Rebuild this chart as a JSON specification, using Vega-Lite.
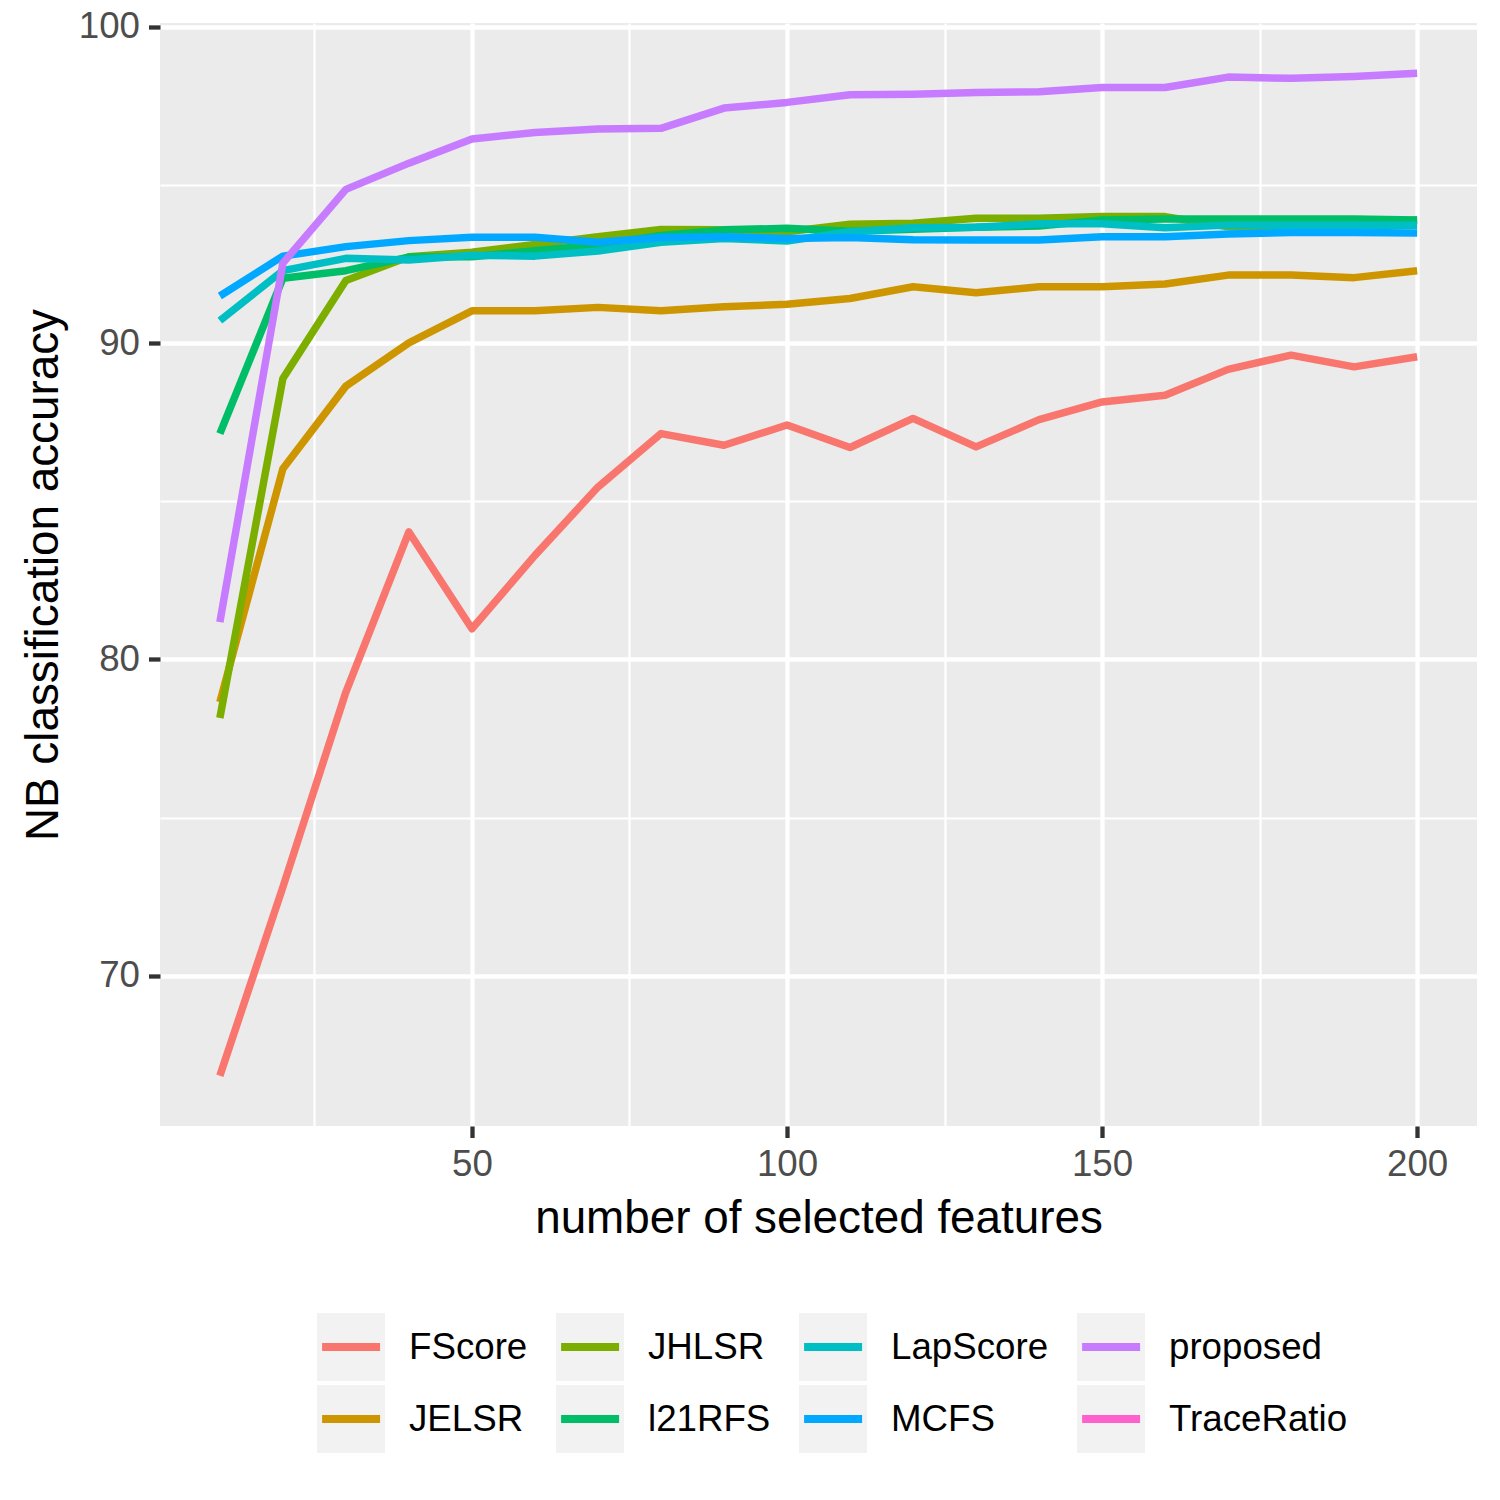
{
  "$schema": "https://vega.github.io/schema/vega-lite/v6.json",
  "width": 1317,
  "height": 1103,
  "autosize": {"type": "none"},
  "padding": {"left": 160, "top": 23, "right": 23, "bottom": 374},
  "background": "white",
  "config": {"view": {"fill": "#EBEBEB", "stroke": null}, "font": "Liberation Sans"},
  "data": {"values": [
    {"n":10,"method":"FScore","acc":66.84},{"n":20,"method":"FScore","acc":72.8},{"n":30,"method":"FScore","acc":78.97},{"n":40,"method":"FScore","acc":84.03},{"n":50,"method":"FScore","acc":80.97},{"n":60,"method":"FScore","acc":83.29},{"n":70,"method":"FScore","acc":85.45},{"n":80,"method":"FScore","acc":87.14},{"n":90,"method":"FScore","acc":86.77},{"n":100,"method":"FScore","acc":87.41},{"n":110,"method":"FScore","acc":86.70},{"n":120,"method":"FScore","acc":87.62},{"n":130,"method":"FScore","acc":86.72},{"n":140,"method":"FScore","acc":87.58},{"n":150,"method":"FScore","acc":88.14},{"n":160,"method":"FScore","acc":88.35},{"n":170,"method":"FScore","acc":89.17},{"n":180,"method":"FScore","acc":89.62},{"n":190,"method":"FScore","acc":89.25},{"n":200,"method":"FScore","acc":89.57},
    {"n":10,"method":"JELSR","acc":78.65},{"n":20,"method":"JELSR","acc":86.03},{"n":30,"method":"JELSR","acc":88.64},{"n":40,"method":"JELSR","acc":90.01},{"n":50,"method":"JELSR","acc":91.02},{"n":60,"method":"JELSR","acc":91.02},{"n":70,"method":"JELSR","acc":91.13},{"n":80,"method":"JELSR","acc":91.02},{"n":90,"method":"JELSR","acc":91.15},{"n":100,"method":"JELSR","acc":91.23},{"n":110,"method":"JELSR","acc":91.41},{"n":120,"method":"JELSR","acc":91.78},{"n":130,"method":"JELSR","acc":91.59},{"n":140,"method":"JELSR","acc":91.78},{"n":150,"method":"JELSR","acc":91.78},{"n":160,"method":"JELSR","acc":91.87},{"n":170,"method":"JELSR","acc":92.15},{"n":180,"method":"JELSR","acc":92.15},{"n":190,"method":"JELSR","acc":92.07},{"n":200,"method":"JELSR","acc":92.29},
    {"n":10,"method":"JHLSR","acc":78.15},{"n":20,"method":"JHLSR","acc":88.88},{"n":30,"method":"JHLSR","acc":91.98},{"n":40,"method":"JHLSR","acc":92.73},{"n":50,"method":"JHLSR","acc":92.87},{"n":60,"method":"JHLSR","acc":93.12},{"n":70,"method":"JHLSR","acc":93.36},{"n":80,"method":"JHLSR","acc":93.59},{"n":90,"method":"JHLSR","acc":93.58},{"n":100,"method":"JHLSR","acc":93.52},{"n":110,"method":"JHLSR","acc":93.76},{"n":120,"method":"JHLSR","acc":93.79},{"n":130,"method":"JHLSR","acc":93.95},{"n":140,"method":"JHLSR","acc":93.95},{"n":150,"method":"JHLSR","acc":94.00},{"n":160,"method":"JHLSR","acc":94.00},{"n":170,"method":"JHLSR","acc":93.68},{"n":180,"method":"JHLSR","acc":93.68},{"n":190,"method":"JHLSR","acc":93.75},{"n":200,"method":"JHLSR","acc":93.89},
    {"n":10,"method":"l21RFS","acc":87.14},{"n":20,"method":"l21RFS","acc":92.05},{"n":30,"method":"l21RFS","acc":92.29},{"n":40,"method":"l21RFS","acc":92.72},{"n":50,"method":"l21RFS","acc":92.73},{"n":60,"method":"l21RFS","acc":92.92},{"n":70,"method":"l21RFS","acc":93.10},{"n":80,"method":"l21RFS","acc":93.40},{"n":90,"method":"l21RFS","acc":93.58},{"n":100,"method":"l21RFS","acc":93.63},{"n":110,"method":"l21RFS","acc":93.54},{"n":120,"method":"l21RFS","acc":93.60},{"n":130,"method":"l21RFS","acc":93.66},{"n":140,"method":"l21RFS","acc":93.70},{"n":150,"method":"l21RFS","acc":93.89},{"n":160,"method":"l21RFS","acc":93.92},{"n":170,"method":"l21RFS","acc":93.92},{"n":180,"method":"l21RFS","acc":93.92},{"n":190,"method":"l21RFS","acc":93.92},{"n":200,"method":"l21RFS","acc":93.89},
    {"n":10,"method":"LapScore","acc":90.71},{"n":20,"method":"LapScore","acc":92.29},{"n":30,"method":"LapScore","acc":92.68},{"n":40,"method":"LapScore","acc":92.63},{"n":50,"method":"LapScore","acc":92.78},{"n":60,"method":"LapScore","acc":92.75},{"n":70,"method":"LapScore","acc":92.91},{"n":80,"method":"LapScore","acc":93.19},{"n":90,"method":"LapScore","acc":93.31},{"n":100,"method":"LapScore","acc":93.23},{"n":110,"method":"LapScore","acc":93.52},{"n":120,"method":"LapScore","acc":93.65},{"n":130,"method":"LapScore","acc":93.66},{"n":140,"method":"LapScore","acc":93.77},{"n":150,"method":"LapScore","acc":93.77},{"n":160,"method":"LapScore","acc":93.65},{"n":170,"method":"LapScore","acc":93.73},{"n":180,"method":"LapScore","acc":93.73},{"n":190,"method":"LapScore","acc":93.73},{"n":200,"method":"LapScore","acc":93.73},
    {"n":10,"method":"MCFS","acc":91.49},{"n":20,"method":"MCFS","acc":92.75},{"n":30,"method":"MCFS","acc":93.05},{"n":40,"method":"MCFS","acc":93.24},{"n":50,"method":"MCFS","acc":93.35},{"n":60,"method":"MCFS","acc":93.35},{"n":70,"method":"MCFS","acc":93.19},{"n":80,"method":"MCFS","acc":93.34},{"n":90,"method":"MCFS","acc":93.36},{"n":100,"method":"MCFS","acc":93.31},{"n":110,"method":"MCFS","acc":93.34},{"n":120,"method":"MCFS","acc":93.27},{"n":130,"method":"MCFS","acc":93.26},{"n":140,"method":"MCFS","acc":93.26},{"n":150,"method":"MCFS","acc":93.36},{"n":160,"method":"MCFS","acc":93.36},{"n":170,"method":"MCFS","acc":93.45},{"n":180,"method":"MCFS","acc":93.50},{"n":190,"method":"MCFS","acc":93.50},{"n":200,"method":"MCFS","acc":93.48},
    {"n":10,"method":"proposed","acc":81.18},{"n":20,"method":"proposed","acc":92.53},{"n":30,"method":"proposed","acc":94.86},{"n":40,"method":"proposed","acc":95.69},{"n":50,"method":"proposed","acc":96.45},{"n":60,"method":"proposed","acc":96.66},{"n":70,"method":"proposed","acc":96.77},{"n":80,"method":"proposed","acc":96.79},{"n":90,"method":"proposed","acc":97.43},{"n":100,"method":"proposed","acc":97.61},{"n":110,"method":"proposed","acc":97.85},{"n":120,"method":"proposed","acc":97.87},{"n":130,"method":"proposed","acc":97.92},{"n":140,"method":"proposed","acc":97.95},{"n":150,"method":"proposed","acc":98.08},{"n":160,"method":"proposed","acc":98.08},{"n":170,"method":"proposed","acc":98.41},{"n":180,"method":"proposed","acc":98.37},{"n":190,"method":"proposed","acc":98.43},{"n":200,"method":"proposed","acc":98.53}
  ]},
  "mark": {"type": "line", "strokeWidth": 7.5, "strokeJoin": "round"},
  "encoding": {
    "x": {
      "field": "n", "type": "quantitative",
      "scale": {"domain": [0.5, 209.5], "nice": false, "zero": false},
      "axis": {
        "title": "number of selected features",
        "values": [25, 50, 75, 100, 125, 150, 175, 200],
        "labelExpr": "datum.value % 50 === 0 ? datum.label : ''",
        "domain": false,
        "grid": true,
        "gridColor": "white",
        "gridOpacity": 1,
        "gridWidth": {"condition": {"test": "datum.value % 50 === 0", "value": 4.3}, "value": 2.2},
        "ticks": true,
        "tickSize": 11.5,
        "tickColor": "#333333",
        "tickWidth": 4.3,
        "tickOpacity": {"condition": {"test": "datum.value % 50 === 0", "value": 1}, "value": 0},
        "labelFontSize": 36.7,
        "labelColor": "#4D4D4D",
        "labelFont": "Liberation Sans",
        "labelPadding": 9,
        "labelFlush": false,
        "labelOverlap": false,
        "titleFont": "Liberation Sans",
        "titleFontSize": 45.8,
        "titleFontWeight": "normal",
        "titleColor": "black",
        "titlePadding": 13
      }
    },
    "y": {
      "field": "acc", "type": "quantitative",
      "scale": {"domain": [65.25, 100.12], "nice": false, "zero": false},
      "axis": {
        "title": "NB classification accuracy",
        "values": [70, 75, 80, 85, 90, 95, 100],
        "labelExpr": "datum.value % 10 === 0 ? datum.label : ''",
        "domain": false,
        "grid": true,
        "gridColor": "white",
        "gridOpacity": 1,
        "gridWidth": {"condition": {"test": "datum.value % 10 === 0", "value": 4.3}, "value": 2.2},
        "ticks": true,
        "tickSize": 11.5,
        "tickColor": "#333333",
        "tickWidth": 4.3,
        "tickOpacity": {"condition": {"test": "datum.value % 10 === 0", "value": 1}, "value": 0},
        "labelFontSize": 36.7,
        "labelColor": "#4D4D4D",
        "labelFont": "Liberation Sans",
        "labelPadding": 9,
        "labelFlush": false,
        "labelOverlap": false,
        "titleFont": "Liberation Sans",
        "titleFontSize": 45.8,
        "titleFontWeight": "normal",
        "titleColor": "black",
        "titlePadding": 11
      }
    },
    "color": {
      "field": "method", "type": "nominal",
      "scale": {
        "domain": ["FScore", "JELSR", "JHLSR", "l21RFS", "LapScore", "MCFS", "proposed", "TraceRatio"],
        "range": ["#F8766D", "#CD9600", "#7CAE00", "#00BE67", "#00BFC4", "#00A9FF", "#C77CFF", "#FF61CC"]
      },
      "legend": {
        "title": null,
        "orient": "none",
        "legendX": 157,
        "legendY": 1290,
        "columns": 4,
        "symbolType": "M-0.85,0H1V-1H-1V1H1V0Z",
        "symbolSize": 4624,
        "symbolStrokeWidth": 8,
        "symbolDash": [58, 100000],
        "symbolFillColor": "#F2F2F2",
        "symbolOffset": -4,
        "labelOffset": 20,
        "labelFontSize": 36.7,
        "labelFont": "Liberation Sans",
        "labelColor": "black",
        "labelLimit": 500,
        "columnPadding": 24,
        "rowPadding": -12,
        "padding": 0,
        "encode": {
          "symbols": {"update": {"y": {"value": 34}, "fill": {"value": "#F2F2F2"}, "fillOpacity": {"value": 1}, "strokeDash": {"value": [58, 100000]}, "strokeJoin": {"value": "round"}}},
          "labels": {"update": {"y": {"value": 35}}}
        }
      }
    }
  }
}
